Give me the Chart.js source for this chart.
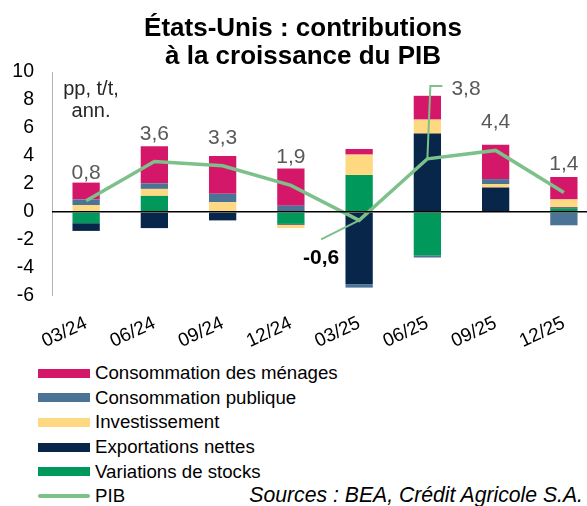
<!DOCTYPE html>
<html><head><meta charset="utf-8">
<script src="https://cdn.jsdelivr.net/npm/chart.js@4.4.1/dist/chart.umd.min.js"></script>
<style>
html,body{margin:0;padding:0;overflow:hidden;background:#fff;width:587px;height:506px;}
body{position:relative;font-family:"Liberation Sans",Arial,sans-serif;}
#wrap{position:absolute;left:0;top:0;width:598px;height:350px;}
#title{position:absolute;left:3px;top:13px;width:600px;text-align:center;font-weight:bold;font-size:26px;line-height:28px;color:#000;}
#unit{position:absolute;left:46px;top:77px;width:90px;text-align:center;font-size:20px;line-height:22px;color:#262626;}
#legend{position:absolute;left:38px;top:361px;}
.row{height:24.6px;display:flex;align-items:center;font-size:18.67px;color:#000;white-space:nowrap;}
.sw{width:52px;height:9px;margin-right:5px;}
.ln{width:52px;height:4px;border-radius:2px;margin-right:5px;}
#src{position:absolute;right:4px;top:483px;font-style:italic;font-size:21.2px;line-height:24px;color:#000;}
</style></head>
<body>
<div id="wrap"><canvas id="c"></canvas></div>
<div id="title">États-Unis : contributions<br>à la croissance du PIB</div>
<div id="unit">pp, t/t,<br>ann.</div>
<div id="legend"></div>
<div id="src">Sources : BEA, Crédit Agricole S.A.</div>
<script>
const categories = ['03/24','06/24','09/24','12/24','03/25','06/25','09/25','12/25'];
const consoMenages = [1.2, 2.65, 2.7, 2.65, 0.4, 1.7, 2.45, 1.6];
const consoPublique = [0.4, 0.4, 0.6, 0.45, -0.25, -0.15, 0.35, -0.95];
const investissement = [0.5, 0.5, 0.7, -0.25, 1.45, 1.0, 0.25, 0.57];
const exportationsNettes = [-0.55, -1.15, -0.6, -0.05, -5.15, 5.6, 1.75, 0.08];
const variationsStocks = [-0.8, 1.15, 0, -0.85, 2.65, -3.1, 0, 0.25];
const pib = [0.8, 3.6, 3.3, 1.9, -0.6, 3.8, 4.4, 1.4];
const yTicks = [-6, -4, -2, 0, 2, 4, 6, 8, 10];

const FONT = '"Liberation Sans", Arial, sans-serif';
const C_PINK = '#D5176A', C_BLUE = '#4A7396', C_YEL = '#FFD982', C_NAVY = '#07264A', C_GREEN = '#00985B', C_LINE = '#7CC08A';

const legendItems = [
  ['Consommation des ménages', C_PINK, 'bar'],
  ['Consommation publique', C_BLUE, 'bar'],
  ['Investissement', C_YEL, 'bar'],
  ['Exportations nettes', C_NAVY, 'bar'],
  ['Variations de stocks', C_GREEN, 'bar'],
  ['PIB', C_LINE, 'line']
];
const lg = document.getElementById('legend');
legendItems.forEach(([name, col, kind]) => {
  const r = document.createElement('div'); r.className = 'row';
  const s = document.createElement('div'); s.className = kind === 'bar' ? 'sw' : 'ln'; s.style.background = col;
  const t = document.createElement('span'); t.textContent = name;
  r.appendChild(s); r.appendChild(t); lg.appendChild(r);
});

const fmt = v => v.toFixed(1).replace('.', ',');

const axisLinePlugin = {
  id: 'yAxisLine',
  beforeDatasetsDraw(chart) {
    const ctx = chart.ctx, a = chart.chartArea;
    ctx.save();
    ctx.strokeStyle = '#B4B4B4'; ctx.lineWidth = 1;
    ctx.beginPath(); ctx.moveTo(a.left + 0.5, a.top); ctx.lineTo(a.left + 0.5, a.bottom); ctx.stroke();
    ctx.restore();
  }
};

const labelPlugin = {
  id: 'pibLabels',
  afterDatasetsDraw(chart) {
    const ctx = chart.ctx, xs = chart.scales.x, ys = chart.scales.y;
    ctx.save();
    pib.forEach((v, i) => {
      const x = xs.getPixelForValue(i), y = ys.getPixelForValue(v);
      const txt = fmt(v);
      ctx.strokeStyle = C_LINE; ctx.lineWidth = 2;
      if (i === 4) {
        ctx.beginPath(); ctx.moveTo(x, y); ctx.lineTo(x - 38, y + 19); ctx.stroke();
        ctx.font = 'bold 21px ' + FONT; ctx.fillStyle = '#000';
        ctx.textAlign = 'center'; ctx.textBaseline = 'middle';
        ctx.fillText(txt, x - 38, y + 38);
      } else if (i === 5) {
        const yTop = ys.getPixelForValue(9);
        ctx.beginPath(); ctx.moveTo(x, y); ctx.lineTo(x + 3, yTop); ctx.lineTo(x + 15, yTop); ctx.stroke();
        ctx.font = '21px ' + FONT; ctx.fillStyle = '#595959';
        ctx.textAlign = 'left'; ctx.textBaseline = 'middle';
        ctx.fillText(txt, x + 24, yTop + 3);
      } else {
        ctx.font = '21px ' + FONT; ctx.fillStyle = '#595959';
        ctx.textAlign = 'center'; ctx.textBaseline = 'alphabetic';
        ctx.fillText(txt, x, y - 22);
      }
    });
    ctx.restore();
  }
};

const barDs = (label, data, color) => ({
  type: 'bar', label, data, backgroundColor: color, borderWidth: 0,
  stack: 's', order: 1, barPercentage: 0.4, categoryPercentage: 1
});

new Chart(document.getElementById('c'), {
  data: {
    labels: categories,
    datasets: [
      { type: 'line', label: 'PIB', data: pib, borderColor: C_LINE, borderWidth: 3.5,
        pointRadius: 0, tension: 0, order: 0, fill: false },
      barDs('Variations de stocks', variationsStocks, C_GREEN),
      barDs('Exportations nettes', exportationsNettes, C_NAVY),
      barDs('Investissement', investissement, C_YEL),
      barDs('Consommation publique', consoPublique, C_BLUE),
      barDs('Consommation des ménages', consoMenages, C_PINK)
    ]
  },
  options: {
    responsive: true, maintainAspectRatio: false, animation: false,
    layout: { padding: { top: 72, left: 0, right: 0, bottom: 0 } },
    plugins: { legend: { display: false }, title: { display: false }, tooltip: { enabled: false } },
    scales: {
      x: {
        stacked: true, offset: true,
        grid: { display: false }, border: { display: false },
        ticks: { color: '#000', font: { family: FONT, size: 19 }, minRotation: 25, maxRotation: 25, padding: 8 },
        afterFit(s) { s.height = 54; }
      },
      y: {
        stacked: true, min: -6, max: 10,
        afterBuildTicks(s) { s.ticks = yTicks.map(v => ({ value: v })); },
        ticks: { color: '#000', font: { family: FONT, size: 19.5 }, padding: 18 },
        grid: { drawTicks: false, z: 1, lineWidth: 1.5,
          color: c => (c.tick && c.tick.value === 0) ? '#000' : 'rgba(0,0,0,0)' },
        border: { display: false },
        afterFit(s) { s.width = 52; }
      }
    }
  },
  plugins: [axisLinePlugin, labelPlugin]
});
</script>
</body></html>
